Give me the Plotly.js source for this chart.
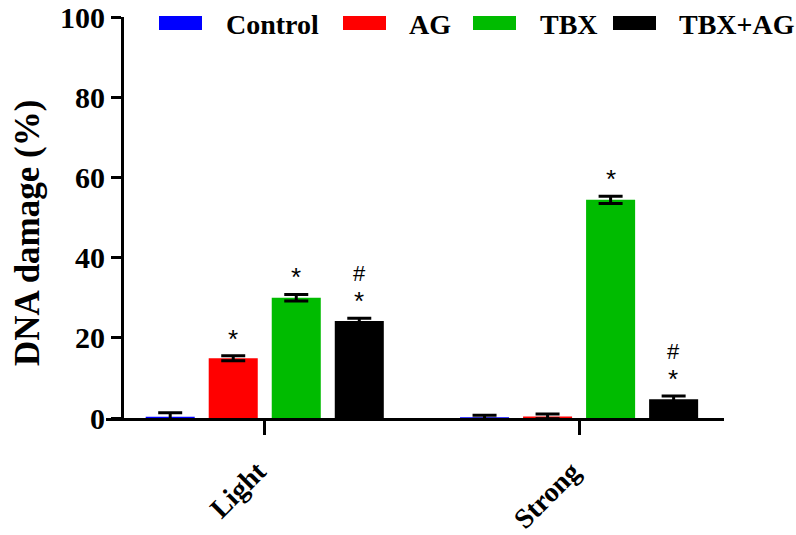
<!DOCTYPE html>
<html>
<head>
<meta charset="utf-8">
<script src="https://cdn.plot.ly/plotly-3.0.1.min.js"></script>
<style>html,body{margin:0;padding:0;background:#fff;}#chart{width:796px;height:535px;}</style>
</head>
<body>
<div id="chart"></div>
<script>
// ---- data ----
const categories = ["Light", "Strong"];
const seriesNames = ["Control", "AG", "TBX", "TBX+AG"];
const seriesColors = ["#0000ff", "#ff0000", "#00bb00", "#000000"];
const controlVals = [0.3, 0.2];
const agVals = [14.9, 0.4];
const tbxVals = [30.0, 54.4];
const tbxAgVals = [24.2, 4.7];
const controlErr = [1.0, 0.5];
const agErr = [0.6, 0.6];
const tbxErr = [0.8, 0.9];
const tbxAgErr = [0.7, 0.8];
const starMarks = [["", ""], ["*", ""], ["*", "*"], ["*", "*"]];
const hashMarks = [["", ""], ["", ""], ["", ""], ["#", "#"]];
const yTickVals = [0, 20, 40, 60, 80, 100];
const yTitle = "DNA damage (%)";

const values = [controlVals, agVals, tbxVals, tbxAgVals];
const errs = [controlErr, agErr, tbxErr, tbxAgErr];

// ---- layout geometry ----
const W = 796, H = 535;
const M = {l: 106, r: 72, t: 17, b: 117};
const plotW = W - M.l - M.r, plotH = H - M.t - M.b;
const bargap = 0.198, bargroupgap = 0.222;
const xRange = [-0.505, 1.461];
const serif = "Liberation Serif, Times New Roman, serif";
const sans = "Liberation Sans, Arial, sans-serif";

const traces = seriesNames.map((name, i) => ({
  type: "bar",
  name: name,
  x: categories,
  y: values[i],
  marker: {color: seriesColors[i], line: {width: 0}},
  error_y: {type: "data", array: errs[i], visible: true, color: "#000", thickness: 3, width: 12},
  showlegend: false,
  hoverinfo: "skip"
}));

// significance marks above bars ('#' stacked tightly over '*' in one text)
const slot = (1 - bargap) / seriesNames.length;
const annotations = [];
seriesNames.forEach((name, i) => {
  categories.forEach((c, j) => {
    const xc = j + (i - (seriesNames.length - 1) / 2) * slot;
    const top = values[i][j] + errs[i][j];
    const star = starMarks[i][j], hash = hashMarks[i][j];
    if (!star && !hash) return;
    let text, size;
    if (hash) {
      text = hash + "<br><span style=\"font-size:26px\">" + star + "</span>";
      size = 22;
    } else {
      text = star;
      size = 26;
    }
    annotations.push({x: xc, y: top, xref: "x", yref: "y", text: text, showarrow: false,
      yanchor: "bottom", yshift: 0, font: {family: sans, size: size, color: "#000"}});
  });
});

// custom legend (wide rectangle swatches)
const px2x = px => (px - M.l) / plotW;
const py2y = py => (H - M.b - py) / plotH;
const legendSwatchX = [159, 343, 473, 613];
const legendTextX = [224, 407, 538, 677];
const shapes = [];
seriesNames.forEach((name, i) => {
  shapes.push({type: "rect", xref: "paper", yref: "paper",
    x0: px2x(legendSwatchX[i]), x1: px2x(legendSwatchX[i] + 43),
    y0: py2y(30), y1: py2y(16), fillcolor: seriesColors[i], line: {width: 0}});
  annotations.push({xref: "paper", yref: "paper", x: px2x(legendTextX[i]), y: py2y(24),
    xanchor: "left", yanchor: "middle", showarrow: false, text: name,
    font: {family: serif, size: 28, color: "#000", weight: "bold"}});
});

// y-axis title (placed slightly below the axis centre, as in the reference)
annotations.push({xref: "paper", yref: "paper", x: px2x(27), y: py2y(233),
  xanchor: "center", yanchor: "middle", textangle: -90, showarrow: false, text: yTitle,
  font: {family: serif, size: 35, color: "#000", weight: "bold"}});

const layout = {
  width: W, height: H,
  margin: M,
  paper_bgcolor: "#fff", plot_bgcolor: "#fff",
  barmode: "group", bargap: bargap, bargroupgap: bargroupgap,
  showlegend: false,
  xaxis: {
    type: "category", range: xRange, showgrid: false, zeroline: false,
    showline: true, linewidth: 3, linecolor: "#000",
    ticks: "outside", ticklen: 14, tickwidth: 3, tickcolor: "#000",
    tickangle: -45, ticklabelstandoff: 9, ticklabelshift: -7,
    tickfont: {family: serif, size: 28, color: "#000", weight: "bold"}
  },
  yaxis: {
    range: [0, 100], tickvals: yTickVals, showgrid: false, zeroline: false,
    anchor: "free", position: px2x(122),
    showline: true, linewidth: 3, linecolor: "#000",
    ticks: "outside", ticklen: 10, tickwidth: 3, tickcolor: "#000",
    tickfont: {family: serif, size: 30, color: "#000", weight: "bold"}
  },
  shapes: shapes,
  annotations: annotations
};

Plotly.newPlot("chart", traces, layout, {displayModeBar: false, staticPlot: true});
</script>
</body>
</html>
